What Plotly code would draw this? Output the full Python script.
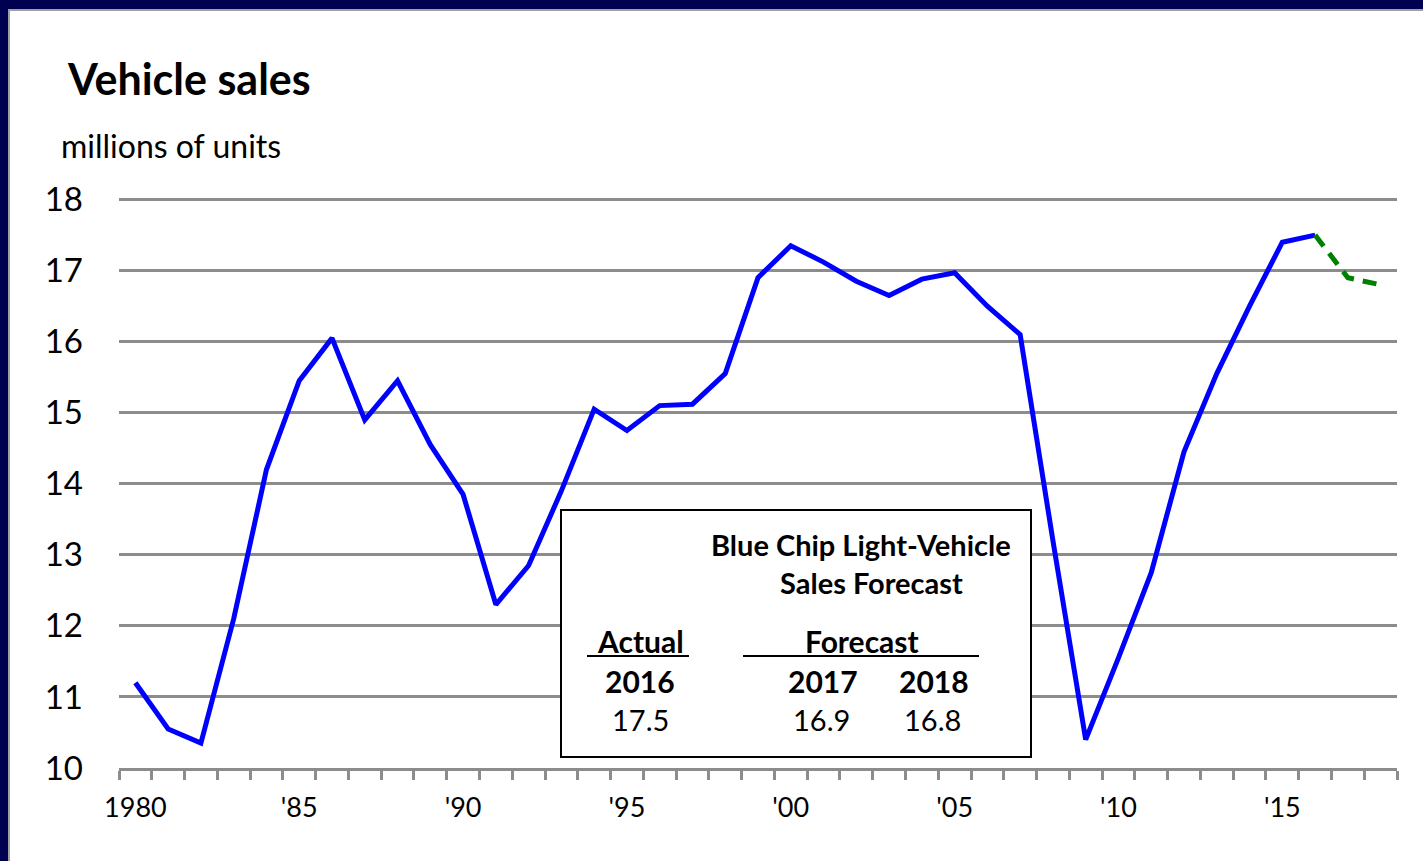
import plotly.graph_objects as go

# annual light-vehicle sales, millions of units
years = list(range(1980, 2017))
sales = [11.2, 10.55, 10.35, 12.1, 14.2, 15.45, 16.05, 14.9, 15.45, 14.55,
         13.85, 12.3, 12.85, 13.9, 15.05, 14.75, 15.1, 15.12, 15.55, 16.9,
         17.35, 17.12, 16.85, 16.65, 16.88, 16.97, 16.5, 16.1, 13.2, 10.4,
         11.55, 12.75, 14.45, 15.55, 16.5, 17.4, 17.5]

# Blue Chip forecast
fc_years = [2016, 2017, 2018]
fc_sales = [17.5, 16.9, 16.8]

tick_years = [1980, 1985, 1990, 1995, 2000, 2005, 2010, 2015]
tick_text = ["1980", "'85", "'90", "'95", "'00", "'05", "'10", "'15"]
y_ticks = list(range(10, 19))

table_years = ["2016", "2017", "2018"]
table_vals = ["17.5", "16.9", "16.8"]

FONT = "Lato"
GRID = "#8c8c8c"

# plot area in pixels: x 119..1397, y 196..768 (y range 10..18.05)
def px(x):
    return (x - 119) / 1278

def py(y):
    return (768 - y) / 572

fig = go.Figure()
fig.add_trace(go.Scatter(x=years, y=sales, mode="lines",
                         line=dict(color="#0000ff", width=5), hoverinfo="skip"))
fig.add_trace(go.Scatter(x=fc_years, y=fc_sales, mode="lines",
                         line=dict(color="#008000", width=5, dash="14px,9px"), hoverinfo="skip"))

shapes = [
    # white panel inside the navy frame
    dict(type="rect", xref="paper", yref="paper", x0=px(9), x1=px(1440), y0=py(880), y1=py(10),
         fillcolor="white", line=dict(color="#a0a0a0", width=2), layer="below"),
    # forecast box
    dict(type="rect", xref="paper", yref="paper", x0=px(561), x1=px(1031), y0=py(757), y1=py(510),
         fillcolor="white", line=dict(color="black", width=2)),
    dict(type="line", xref="paper", yref="paper", x0=px(587), x1=px(689), y0=py(656), y1=py(656),
         line=dict(color="black", width=2)),
    dict(type="line", xref="paper", yref="paper", x0=px(743), x1=px(979), y0=py(656), y1=py(656),
         line=dict(color="black", width=2)),
]

def note(text, x, y, size, bold=False, xanchor="center"):
    t = f"<b>{text}</b>" if bold else text
    return dict(text=t, xref="paper", yref="paper", x=px(x), y=py(y), xanchor=xanchor,
                yanchor="middle", showarrow=False, font=dict(family=FONT, size=size, color="black"))

annotations = [
    note("Vehicle sales", 65, 78, 43, bold=True, xanchor="left"),
    note("millions of units", 59, 145, 32, xanchor="left"),
    note("Blue Chip Light-Vehicle", 861, 544, 29, bold=True),
    note("Sales Forecast", 871, 582, 29, bold=True),
    note("Actual", 640, 641, 30, bold=True),
    note("Forecast", 862, 641, 30, bold=True),
]
for yr, v, cx in zip(table_years, table_vals, [640, 823, 934]):
    annotations.append(note(yr, cx, 681, 30, bold=True))
    annotations.append(note(v, cx - (0 if cx == 640 else 2), 719, 29))

fig.update_layout(
    width=1423, height=861,
    margin=dict(l=119, r=26, t=196, b=93),
    paper_bgcolor="#000050",
    plot_bgcolor="white",
    showlegend=False,
    shapes=shapes,
    annotations=annotations,
    xaxis=dict(range=[1979.5, 2018.5], tickvals=tick_years, ticktext=tick_text,
               ticks="outside", ticklen=0, showgrid=False, zeroline=False,
               showline=True, linecolor=GRID, linewidth=3,
               tickfont=dict(family=FONT, size=27, color="black"), ticklabelstandoff=14,
               minor=dict(tick0=1979.5, dtick=1, ticks="outside", ticklen=9,
                          tickcolor=GRID, tickwidth=3, showgrid=False)),
    yaxis=dict(range=[10, 18.05], tickvals=y_ticks, showgrid=True, gridcolor=GRID, gridwidth=2.5,
               zeroline=False, showline=False, ticks="",
               tickfont=dict(family=FONT, size=33, color="black"), ticklabelstandoff=35),
)

fig.write_html("out.html", config={"displayModeBar": False},
               post_script="document.body.style.margin='0px';")
